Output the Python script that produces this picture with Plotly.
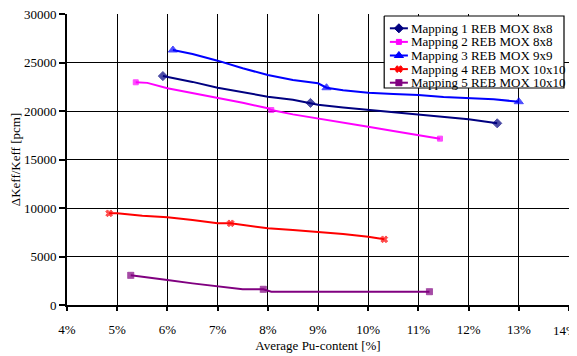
import plotly.graph_objects as go

names = ["Mapping 1 REB MOX 8x8", "Mapping 2 REB MOX 8x8", "Mapping 3 REB MOX 9x9",
         "Mapping 4 REB MOX 10x10", "Mapping 5 REB MOX 10x10"]

x1 = [5.91, 6.5, 7.0, 7.5, 8.0, 8.5, 8.85, 9.0, 9.5, 10.0, 10.5, 11.0, 11.5, 12.0, 12.57]
y1 = [23600, 23000, 22400, 21950, 21480, 21150, 20830, 20650, 20350, 20100, 19850, 19590, 19380, 19140, 18730]
m1 = [0, 6, 14]

x2 = [5.37, 5.6, 6.0, 6.5, 7.0, 7.5, 8.0, 8.07, 8.5, 9.0, 9.5, 10.0, 10.5, 11.0, 11.43]
y2 = [22960, 22900, 22340, 21850, 21410, 20850, 20280, 20100, 19650, 19250, 18800, 18380, 17950, 17530, 17150]
m2 = [0, 7, 14]

x3 = [6.11, 6.5, 7.0, 7.5, 8.0, 8.5, 9.0, 9.17, 9.5, 10.0, 10.5, 11.0, 11.5, 12.0, 12.5, 13.0]
y3 = [26290, 25880, 25190, 24400, 23710, 23200, 22860, 22400, 22150, 21890, 21750, 21650, 21450, 21310, 21200, 20960]
m3 = [0, 7, 15]

x4 = [4.84, 5.0, 5.5, 6.0, 6.5, 7.0, 7.26, 7.5, 8.0, 8.5, 9.0, 9.5, 10.0, 10.32]
y4 = [9450, 9450, 9200, 9040, 8760, 8420, 8420, 8250, 7910, 7730, 7530, 7320, 7040, 6770]
m4 = [0, 6, 13]

x5 = [5.27, 5.5, 6.0, 6.5, 7.0, 7.5, 7.91, 8.07, 9.0, 10.0, 11.0, 11.22]
y5 = [3060, 2920, 2580, 2230, 1890, 1620, 1620, 1370, 1370, 1370, 1370, 1370]
m5 = [0, 6, 11]

x_ticks = list(range(4, 15))
x_ticktext = [f"{v}%" for v in x_ticks]

colors = ["#000080", "#FF00FF", "#0000FF", "#FF0000", "#800080"]
symbols = ["diamond", "square", "triangle-up", "x", "square-x"]
msizes = [7, 5, 8, 6, 6]

xs = [x1, x2, x3, x4, x5]
ys = [y1, y2, y3, y4, y5]
ms = [m1, m2, m3, m4, m5]

font = "Liberation Serif"

# figure geometry (page has an 8px body margin)
W, H = 569, 348
L, T, PW, PH = 59.3, 6, 501.7, 291

fig = go.Figure()
for i in range(5):
    sizes = [msizes[i] if k in ms[i] else 0 for k in range(len(xs[i]))]
    fig.add_trace(go.Scatter(
        x=xs[i], y=ys[i], mode="lines+markers", showlegend=False, name=names[i],
        line=dict(color=colors[i], width=2),
        marker=dict(color=colors[i], size=sizes, symbol=symbols[i],
                    line=dict(color=colors[i], width=1)),
    ))

# custom legend drawn in figure-pixel coordinates on an overlay axis pair
bx0, bx1, by0, by1 = 376.3, 556, 8, 80
row0, rowstep = 20.3, 13.6
sx0, sx1, tx = 382, 400, 401
fig.add_trace(go.Scatter(
    x=[bx0, bx1, bx1, bx0, bx0], y=[by0, by0, by1, by1, by0],
    xaxis="x2", yaxis="y2", mode="lines", fill="toself", fillcolor="white",
    line=dict(color="black", width=1.2), showlegend=False, hoverinfo="skip",
    cliponaxis=False))
for i in range(5):
    yy = row0 + rowstep * i
    fig.add_trace(go.Scatter(
        x=[sx0, sx1], y=[yy, yy], xaxis="x2", yaxis="y2", mode="lines",
        showlegend=False, hoverinfo="skip", cliponaxis=False,
        line=dict(color=colors[i], width=2)))
    fig.add_trace(go.Scatter(
        x=[(sx0 + sx1) / 2], y=[yy], xaxis="x2", yaxis="y2", mode="markers",
        showlegend=False, hoverinfo="skip", cliponaxis=False,
        marker=dict(color=colors[i], size=msizes[i], symbol=symbols[i],
                    line=dict(color=colors[i], width=1))))
    fig.add_annotation(x=tx, y=yy, xref="x2", yref="y2", text=names[i],
                       showarrow=False, xanchor="left", yanchor="middle",
                       font=dict(family=font, size=13, color="black"))

# last x tick label sits at the page edge: draw it as text nudged inward
shown_ticktext = x_ticktext[:-1] + [""]
fig.add_annotation(x=x_ticks[-1], y=0, xref="x", yref="paper", text=x_ticktext[-1],
                   showarrow=False, xanchor="center", yanchor="middle",
                   xshift=-4, yshift=-25, font=dict(family=font, size=13, color="black"))

fig.update_layout(
    width=W, height=H,
    margin=dict(l=L, r=W - L - PW, t=T, b=H - T - PH, autoexpand=False),
    paper_bgcolor="white", plot_bgcolor="white",
    font=dict(family=font, size=13, color="black"),
    showlegend=False,
    xaxis=dict(range=[4, 14], tickvals=x_ticks, ticktext=shown_ticktext,
               automargin=False, ticklabeloverflow="allow",
               showgrid=True, gridcolor="black", gridwidth=1.2,
               showline=True, linecolor="black", linewidth=2,
               ticks="outside", ticklen=4, tickcolor="black", tickwidth=2,
               ticklabelstandoff=7, zeroline=False,
               title=dict(text="Average Pu-content [%]", standoff=5,
                          font=dict(family=font, size=13))),
    yaxis=dict(range=[0, 30000], dtick=5000, tick0=0, tickformat="d",
               automargin=False, ticklabeloverflow="allow",
               showgrid=True, gridcolor="black", gridwidth=1.2,
               showline=True, linecolor="black", linewidth=2,
               ticks="outside", ticklen=6, tickcolor="black", tickwidth=2,
               ticklabelstandoff=0, zeroline=False,
               title=dict(text="ΔKeff/Keff [pcm]", standoff=6,
                          font=dict(family=font, size=13))),
    xaxis2=dict(overlaying="x", range=[L, L + PW], visible=False, fixedrange=True),
    yaxis2=dict(overlaying="y", range=[T + PH, T], visible=False, fixedrange=True),
)

fig.write_html("out.html")
